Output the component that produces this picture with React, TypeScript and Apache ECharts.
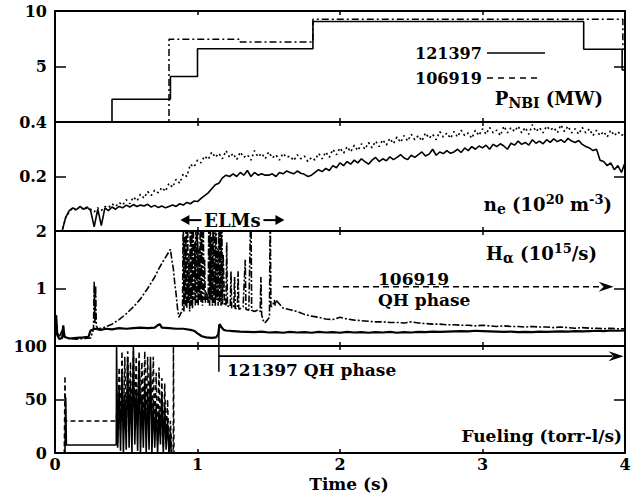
import React, { useEffect, useRef } from "react";
import * as echarts from "echarts";

const FONT = "'DejaVu Serif', 'Liberation Serif', serif";

// ---- layout of the four stacked panels (pixels) ----
const PANEL_TOPS = [11, 122, 231, 346];
const PANEL_HEIGHTS = [111, 109, 115, 107];
const PANEL_MAX = [10, 0.4, 2, 100];
const PANEL_STEP = [5, 0.2, 1, 50];
const X_MIN = 0;
const X_MAX = 4;
const X_STEP = 1;

// ---- Panel 1: P_NBI (MW) ----
const PNBI_121397: number[][] = [
  [0, 0], [0.4, 0], [0.4, 2.05], [0.81, 2.05], [0.81, 4.1], [1.0, 4.1], [1.0, 6.6],
  [1.81, 6.6], [1.81, 9.05], [3.71, 9.05], [3.71, 6.55], [3.98, 6.55], [3.98, 4.7], [4.0, 4.7],
];
const PNBI_106919: number[][] = [
  [0, 0], [0.8, 0], [0.8, 7.45], [1.3, 7.45], [1.3, 7.2], [1.81, 7.2], [1.81, 9.25],
  [3.985, 9.25], [3.985, 6.55], [4.0, 6.55],
];

// ---- Panel 2: n_e (1e20 m^-3), sampled every 0.025 s from t = 0 ----
const NE_T0 = 0;
const NE_DT = 0.025;
const NE_121397 = [
  0, 0, 0, 0.05, 0.075, 0.085, 0.078, 0.09, 0.08, 0.088,
  0.075, 0.015, 0.08, 0.02, 0.085, 0.075, 0.088, 0.08, 0.09, 0.085,
  0.095, 0.088, 0.097, 0.09, 0.095, 0.092, 0.098, 0.088, 0.094, 0.086,
  0.092, 0.085, 0.09, 0.095, 0.09, 0.1, 0.095, 0.105, 0.1, 0.11,
  0.108, 0.12, 0.13, 0.14, 0.155, 0.17, 0.175, 0.195, 0.205, 0.2,
  0.21, 0.2, 0.215, 0.205, 0.222, 0.2, 0.215, 0.205, 0.21, 0.205,
  0.205, 0.21, 0.2, 0.215, 0.21, 0.22, 0.215, 0.21, 0.22, 0.212,
  0.208, 0.2, 0.205, 0.215, 0.225, 0.218, 0.23, 0.222, 0.24, 0.232,
  0.25, 0.24, 0.255, 0.245, 0.26, 0.25, 0.265, 0.255, 0.245, 0.26,
  0.27, 0.255, 0.265, 0.258, 0.272, 0.262, 0.27, 0.28, 0.268, 0.262,
  0.278, 0.27, 0.28, 0.29, 0.275, 0.282, 0.3, 0.278, 0.29, 0.284,
  0.295, 0.285, 0.29, 0.3, 0.288, 0.305, 0.295, 0.31, 0.3, 0.312,
  0.305, 0.315, 0.3, 0.318, 0.31, 0.32, 0.312, 0.3, 0.322, 0.315,
  0.33, 0.318, 0.325, 0.315, 0.335, 0.322, 0.33, 0.32, 0.335, 0.325,
  0.338, 0.328, 0.335, 0.325, 0.34, 0.33, 0.325, 0.332, 0.318, 0.31,
  0.305, 0.295, 0.3, 0.26, 0.255, 0.24, 0.25, 0.225, 0.24, 0.215,
  0.25,
];
const NE_106919 = [
  0, 0, 0, 0.05, 0.07, 0.085, 0.075, 0.09, 0.078, 0.085,
  0.08, 0.07, 0.085, 0.075, 0.09, 0.085, 0.1, 0.09, 0.105, 0.095,
  0.115, 0.1, 0.125, 0.11, 0.135, 0.12, 0.145, 0.13, 0.15, 0.14,
  0.16, 0.145, 0.175, 0.16, 0.19, 0.175, 0.21, 0.2, 0.245, 0.235,
  0.26, 0.25, 0.275, 0.262, 0.29, 0.27, 0.285, 0.265, 0.295, 0.27,
  0.285, 0.262, 0.29, 0.27, 0.28, 0.26, 0.295, 0.272, 0.285, 0.265,
  0.29, 0.268, 0.28, 0.26, 0.285, 0.27, 0.275, 0.258, 0.28, 0.265,
  0.275, 0.255, 0.27, 0.26, 0.285, 0.265, 0.29, 0.27, 0.3, 0.28,
  0.305, 0.285, 0.31, 0.29, 0.315, 0.295, 0.32, 0.3, 0.325, 0.305,
  0.33, 0.31, 0.335, 0.315, 0.34, 0.32, 0.345, 0.325, 0.35, 0.33,
  0.355, 0.335, 0.35, 0.33, 0.36, 0.34, 0.355, 0.335, 0.365, 0.345,
  0.36, 0.34, 0.365, 0.345, 0.37, 0.35, 0.36, 0.34, 0.37, 0.35,
  0.375, 0.355, 0.38, 0.36, 0.37, 0.35, 0.385, 0.36, 0.38, 0.365,
  0.385, 0.36, 0.38, 0.355, 0.39, 0.365, 0.38, 0.36, 0.385, 0.37,
  0.38, 0.36, 0.39, 0.365, 0.385, 0.36, 0.375, 0.355, 0.38, 0.36,
  0.375, 0.35, 0.37, 0.35, 0.365, 0.345, 0.37, 0.35, 0.365, 0.35,
  0.36,
];

// ---- Panel 3: H_alpha (1e15/s) ----
const HA_121397_HEAD: number[][] = [
  [0, 0.15], [0.008, 0.54], [0.016, 0.2], [0.03, 0.12], [0.05, 0.14], [0.058, 0.36], [0.065, 0.16],
  [0.1, 0.13], [0.15, 0.14], [0.2, 0.15], [0.235, 0.16], [0.25, 0.27], [0.28, 0.3], [0.32, 0.28],
  [0.36, 0.3], [0.4, 0.29], [0.45, 0.31], [0.5, 0.3], [0.55, 0.31], [0.6, 0.32], [0.65, 0.31],
  [0.7, 0.32], [0.72, 0.36], [0.735, 0.38], [0.75, 0.32], [0.8, 0.31], [0.85, 0.3], [0.9, 0.3],
  [0.95, 0.28], [0.98, 0.26], [1.0, 0.22], [1.03, 0.17], [1.06, 0.15], [1.1, 0.14], [1.13, 0.15],
  [1.145, 0.2], [1.155, 0.38], [1.17, 0.32], [1.185, 0.28],
];
const HA_121397_TAIL_T0 = 1.2;
const HA_121397_TAIL_DT = 0.05;
const HA_121397_TAIL = [
  0.27, 0.26, 0.25, 0.245, 0.24, 0.25, 0.235, 0.24, 0.23, 0.245,
  0.235, 0.24, 0.23, 0.245, 0.235, 0.24, 0.23, 0.245, 0.235, 0.24,
  0.23, 0.24, 0.235, 0.245, 0.23, 0.24, 0.235, 0.245, 0.24, 0.25,
  0.245, 0.25, 0.255, 0.26, 0.255, 0.265, 0.26, 0.255, 0.25, 0.245,
  0.25, 0.24, 0.245, 0.24, 0.25, 0.245, 0.25, 0.255, 0.25, 0.26,
  0.255, 0.26, 0.265, 0.26, 0.27, 0.265, 0.27,
];
const HA_106919_HEAD: number[][] = [
  [0, 0.18], [0.005, 0.5], [0.015, 0.25], [0.03, 0.16], [0.06, 0.32], [0.07, 0.15], [0.1, 0.13],
  [0.15, 0.12], [0.2, 0.13], [0.25, 0.14], [0.265, 0.25], [0.27, 0.3], [0.275, 1.12], [0.28, 0.4],
  [0.285, 1.05], [0.29, 0.35], [0.3, 0.3], [0.33, 0.31], [0.36, 0.34], [0.4, 0.38], [0.45, 0.46],
  [0.5, 0.56], [0.55, 0.68], [0.6, 0.82], [0.65, 1.0], [0.7, 1.2], [0.73, 1.35], [0.76, 1.48],
  [0.79, 1.6], [0.81, 1.68], [0.82, 1.5], [0.83, 1.35], [0.84, 1.1], [0.85, 0.9], [0.86, 0.65],
  [0.87, 0.5], [0.885, 0.58],
  // ELM bursts
  [0.895, 0.62], [0.9, 2.5], [0.905, 0.6], [0.91, 1.9], [0.915, 0.7], [0.92, 2.5], [0.925, 0.65],
  [0.93, 2.5], [0.935, 0.75], [0.94, 1.6], [0.945, 0.6], [0.95, 2.5], [0.955, 0.7], [0.96, 2.2],
  [0.965, 0.65], [0.97, 2.5], [0.975, 0.8], [0.98, 1.8], [0.985, 0.7], [0.99, 2.5], [0.995, 0.75],
  [1.0, 2.5], [1.005, 0.7], [1.01, 1.7], [1.015, 0.8], [1.02, 2.5], [1.025, 0.75], [1.03, 2.1],
  [1.035, 0.7], [1.04, 2.5], [1.045, 0.8], [1.05, 1.5],
  [1.055, 0.75], [1.06, 0.95], [1.065, 0.8], [1.07, 0.9], [1.075, 0.75],
  [1.08, 2.5], [1.085, 0.7], [1.09, 2.5], [1.095, 0.8], [1.1, 1.9], [1.105, 0.7], [1.11, 2.5],
  [1.115, 0.75], [1.12, 2.3], [1.125, 0.7], [1.13, 2.5], [1.135, 0.8], [1.14, 1.7], [1.145, 0.7],
  [1.15, 2.5], [1.155, 0.75], [1.16, 2.0], [1.165, 0.7], [1.17, 2.5], [1.175, 0.72], [1.18, 1.6],
  [1.19, 0.7], [1.2, 0.72], [1.205, 1.8], [1.21, 0.7], [1.23, 0.68], [1.235, 1.3], [1.24, 0.66],
  [1.255, 0.68], [1.26, 1.2], [1.265, 0.65], [1.28, 0.66], [1.285, 1.3], [1.29, 0.64], [1.31, 0.66],
  [1.32, 0.68], [1.335, 1.5], [1.34, 0.64], [1.36, 0.62], [1.375, 2.5], [1.38, 0.62], [1.4, 0.6],
  [1.42, 0.62], [1.44, 0.6], [1.445, 1.2], [1.45, 0.55], [1.46, 0.45], [1.47, 0.4], [1.48, 0.42],
  [1.49, 0.45], [1.505, 0.5], [1.51, 2.5], [1.515, 0.7], [1.52, 0.68], [1.53, 0.72], [1.54, 0.8],
  [1.545, 0.7],
];
const HA_106919_TAIL_T0 = 1.55;
const HA_106919_TAIL_DT = 0.05;
const HA_106919_TAIL = [
  0.8, 0.66, 0.63, 0.6, 0.55, 0.52, 0.5, 0.47, 0.46, 0.5,
  0.47, 0.45, 0.44, 0.43, 0.42, 0.42, 0.41, 0.41, 0.4, 0.42,
  0.4, 0.39, 0.38, 0.38, 0.37, 0.37, 0.36, 0.36, 0.35, 0.36,
  0.35, 0.34, 0.35, 0.34, 0.34, 0.33, 0.34, 0.33, 0.33, 0.32,
  0.33, 0.32, 0.31, 0.32, 0.31, 0.31, 0.3, 0.31, 0.3, 0.3,
];

// ---- Panel 4: Fueling (torr-l/s) ----
const FUEL_121397: number[][] = [
  [0, 0], [0.07, 0], [0.075, 52], [0.08, 7.5], [0.43, 7.5], [0.432, 100], [0.44, 5], [0.45, 60],
  [0.46, 2], [0.47, 75], [0.48, 0], [0.49, 55], [0.5, 3], [0.51, 90], [0.52, 5], [0.53, 65],
  [0.54, 0], [0.55, 100], [0.56, 8], [0.57, 60], [0.58, 2], [0.59, 85], [0.6, 0], [0.61, 55],
  [0.62, 5], [0.63, 70], [0.64, 0], [0.65, 60], [0.66, 3], [0.67, 90], [0.68, 0], [0.69, 50],
  [0.7, 5], [0.71, 45], [0.72, 0], [0.73, 40], [0.74, 8], [0.75, 55], [0.76, 0], [0.77, 45],
  [0.78, 3], [0.79, 30], [0.8, 0], [0.81, 20], [0.815, 0], [4, 0],
];
const FUEL_106919: number[][] = [
  [0, 0], [0.065, 0], [0.07, 72], [0.075, 30], [0.43, 30], [0.435, 45], [0.44, 10], [0.45, 80],
  [0.46, 20], [0.47, 95], [0.48, 30], [0.49, 90], [0.5, 15], [0.51, 95], [0.52, 40], [0.53, 85],
  [0.54, 20], [0.55, 95], [0.56, 35], [0.57, 90], [0.58, 25], [0.59, 95], [0.6, 45], [0.61, 85],
  [0.62, 30], [0.63, 95], [0.64, 40], [0.65, 90], [0.66, 35], [0.67, 80], [0.68, 25], [0.69, 90],
  [0.7, 20], [0.71, 75], [0.72, 10], [0.73, 80], [0.74, 15], [0.75, 70], [0.76, 5], [0.77, 65],
  [0.78, 10], [0.79, 50], [0.8, 0], [0.81, 30], [0.82, 0], [0.83, 0], [0.831, 100], [0.835, 0], [4, 0],
];

// ---- annotations (data coordinates) ----
const ELM_ARROW = { from: 0.88, to: 1.61, level: 0.04 };
const QH_106919 = { from: 1.6, to: 3.92, level: 1.03 };
const QH_121397 = { t: 1.15, topHa: 0.37, bottomFuel: 76, level: 90.5, to: 3.99 };

const uniform = (t0: number, dt: number, vals: number[]) =>
  vals.map((v, i) => [+(t0 + i * dt).toFixed(4), v]);

const HA_121397 = HA_121397_HEAD.concat(uniform(HA_121397_TAIL_T0, HA_121397_TAIL_DT, HA_121397_TAIL));
const HA_106919 = HA_106919_HEAD.concat(uniform(HA_106919_TAIL_T0, HA_106919_TAIL_DT, HA_106919_TAIL));

const BLACK = "#000";

function lineSeries(g: number, data: number[][], width: number, type: any, z = 2) {
  return {
    type: "line",
    xAxisIndex: 2 * g,
    yAxisIndex: 2 * g,
    data,
    showSymbol: false,
    symbol: "none",
    clip: true,
    z,
    lineStyle: { color: BLACK, width, type },
    emphasis: { disabled: true },
  };
}

function txt(x: number, y: number, text: string, size: number, align: string, rich?: any, lineHeight?: number) {
  return {
    type: "text",
    x,
    y,
    z: 100,
    style: {
      text,
      fill: BLACK,
      font: `bold ${size}px ${FONT}`,
      fontFamily: FONT,
      fontSize: size,
      fontWeight: "bold",
      lineHeight,
      align,
      textAlign: align,
      verticalAlign: "middle",
      textVerticalAlign: "middle",
      rich,
    },
  };
}

const RICH = {
  m: { fontSize: 18, fontWeight: "bold", fontFamily: FONT, fill: BLACK },
  s: { fontSize: 14, fontWeight: "bold", fontFamily: FONT, fill: BLACK, padding: [9, 0, 0, 0] },
  u: { fontSize: 13, fontWeight: "bold", fontFamily: FONT, fill: BLACK, padding: [0, 0, 10, 0] },
};

export default function App() {
  const ref = useRef<HTMLDivElement>(null);
  useEffect(() => {
    if (!ref.current) return;
    const chart = echarts.init(ref.current, undefined, { renderer: "svg" });

    const grids = PANEL_TOPS.map((top, i) => ({
      left: 55,
      right: 8,
      top,
      height: PANEL_HEIGHTS[i],
      outerBoundsMode: "none",
      containLabel: false,
    }));

    const axisLine = { show: true, onZero: false, lineStyle: { color: BLACK, width: 2 } };
    const labelBase = { color: BLACK, fontSize: 16, fontWeight: "bold", fontFamily: FONT };

    const xAxis: any[] = [];
    const yAxis: any[] = [];
    PANEL_TOPS.forEach((_, g) => {
      ["bottom", "top"].forEach((pos) => {
        xAxis.push({
          type: "value",
          gridIndex: g,
          position: pos,
          min: X_MIN,
          max: X_MAX,
          interval: X_STEP,
          axisLine,
          axisTick: { show: true, inside: true, length: 4, lineStyle: { color: BLACK, width: 1.5 } },
          axisLabel: {
            ...labelBase,
            lineHeight: 15,
            show: g === 3 && pos === "bottom",
            margin: 4,
          },
          splitLine: { show: false },
        });
      });
      ["left", "right"].forEach((pos) => {
        yAxis.push({
          type: "value",
          gridIndex: g,
          position: pos,
          min: 0,
          max: PANEL_MAX[g],
          interval: PANEL_STEP[g],
          axisLine,
          axisTick: { show: true, inside: true, length: 11, lineStyle: { color: BLACK, width: 1.5 } },
          axisLabel: {
            ...labelBase,
            show: pos === "left",
            margin: 8,
            formatter: (v: number) => (g < 3 && v === 0 ? "" : String(+v.toFixed(2))),
          },
          splitLine: { show: false },
        });
      });
    });

    const series = [
      lineSeries(0, PNBI_121397, 1.6, "solid", 3),
      lineSeries(0, PNBI_106919, 1.5, [7, 3, 2, 3]),
      lineSeries(1, NE_121397.map((v, i) => [+(NE_T0 + i * NE_DT).toFixed(4), v]), 1.6, "solid", 3),
      lineSeries(1, NE_106919.map((v, i) => [+(NE_T0 + i * NE_DT).toFixed(4), v]), 1.6, [2, 3]),
      lineSeries(2, HA_121397, 2.2, "solid", 3),
      lineSeries(2, HA_106919, 1.6, [7, 2, 2, 2]),
      lineSeries(3, FUEL_121397, 1.6, "solid", 3),
      lineSeries(3, FUEL_106919, 1.5, [5, 3]),
    ];

    chart.setOption({
      animation: false,
      textStyle: { fontFamily: FONT },
      grid: grids,
      xAxis,
      yAxis,
      series,
    });

    const px = (g: number, t: number, v: number) =>
      chart.convertToPixel({ xAxisIndex: 2 * g, yAxisIndex: 2 * g } as any, [t, v]) as unknown as number[];

    const fill = { fill: BLACK };
    const stroke = (w: number, dash?: number[]) => ({ stroke: BLACK, lineWidth: w, lineDash: dash });

    // ELMs double arrow
    const eL = px(1, ELM_ARROW.from, ELM_ARROW.level);
    const eR = px(1, ELM_ARROW.to, ELM_ARROW.level);
    const eMid = (eL[0] + eR[0]) / 2;
    // 106919 QH arrow
    const q1a = px(2, QH_106919.from, QH_106919.level);
    const q1b = px(2, QH_106919.to, QH_106919.level);
    // 121397 QH arrow
    const q2top = px(2, QH_121397.t, QH_121397.topHa);
    const q2bot = px(3, QH_121397.t, QH_121397.bottomFuel);
    const q2a = px(3, QH_121397.t, QH_121397.level);
    const q2b = px(3, QH_121397.to, QH_121397.level);

    const stealth = (tx: number, ty: number) => ({
      type: "polygon",
      z: 100,
      shape: { points: [[tx, ty], [tx - 15, ty - 5], [tx - 10, ty], [tx - 15, ty + 5]] },
      style: fill,
    });

    const graphic: any[] = [
      // legend
      txt(415, 53, "121397", 16, "left"),
      { type: "line", z: 100, shape: { x1: 487, y1: 53, x2: 545, y2: 53 }, style: stroke(1.6) },
      txt(415, 78, "106919", 16, "left"),
      { type: "line", z: 100, shape: { x1: 487, y1: 78, x2: 542, y2: 78 }, style: stroke(1.6, [6, 5]) },
      // panel labels
      txt(603, 98, "{m|P}{s|NBI}{m| (MW)}", 18, "right", RICH),
      txt(612, 204, "{m|n}{s|e}{m| (10}{u|20}{m| m}{u|-3}{m|)}", 18, "right", RICH),
      txt(597, 253, "{m|H}{s|α}{m| (10}{u|15}{m|/s)}", 18, "right", RICH),
      txt(622, 436, "Fueling (torr-l/s)", 17, "right"),
      txt(349, 484, "Time (s)", 17, "center", undefined, 15),
      // ELMs
      txt(eMid, eL[1], "ELMs", 18, "center"),
      { type: "line", z: 100, shape: { x1: eL[0] + 4, y1: eL[1], x2: eMid - 31, y2: eL[1] }, style: stroke(2) },
      { type: "line", z: 100, shape: { x1: eMid + 31, y1: eR[1], x2: eR[0] - 4, y2: eR[1] }, style: stroke(2) },
      { type: "polygon", z: 100, shape: { points: [[eL[0], eL[1]], [eL[0] + 9, eL[1] - 5], [eL[0] + 9, eL[1] + 5]] }, style: fill },
      { type: "polygon", z: 100, shape: { points: [[eR[0], eR[1]], [eR[0] - 9, eR[1] - 5], [eR[0] - 9, eR[1] + 5]] }, style: fill },
      // 106919 QH phase
      { type: "line", z: 100, shape: { x1: q1a[0], y1: q1a[1], x2: q1b[0] - 11, y2: q1b[1] }, style: stroke(1.6, [6, 4]) },
      stealth(q1b[0], q1b[1]),
      txt(378, 279, "106919", 17, "left"),
      txt(378, 300, "QH phase", 17, "left"),
      // 121397 QH phase
      { type: "line", z: 100, shape: { x1: q2top[0], y1: q2top[1], x2: q2bot[0], y2: q2bot[1] }, style: stroke(1.5) },
      { type: "line", z: 100, shape: { x1: q2a[0], y1: q2a[1], x2: q2b[0] - 11, y2: q2b[1] }, style: stroke(1.6) },
      stealth(q2b[0], q2b[1]),
      txt(q2top[0] + 8, 370, "121397 QH phase", 17, "left"),
    ];

    chart.setOption({ graphic });

    return () => chart.dispose();
  }, []);

  return (
    <div
      ref={ref}
      style={{ position: "fixed", left: 0, top: 0, width: 633, height: 493, background: "#fff" }}
    />
  );
}
